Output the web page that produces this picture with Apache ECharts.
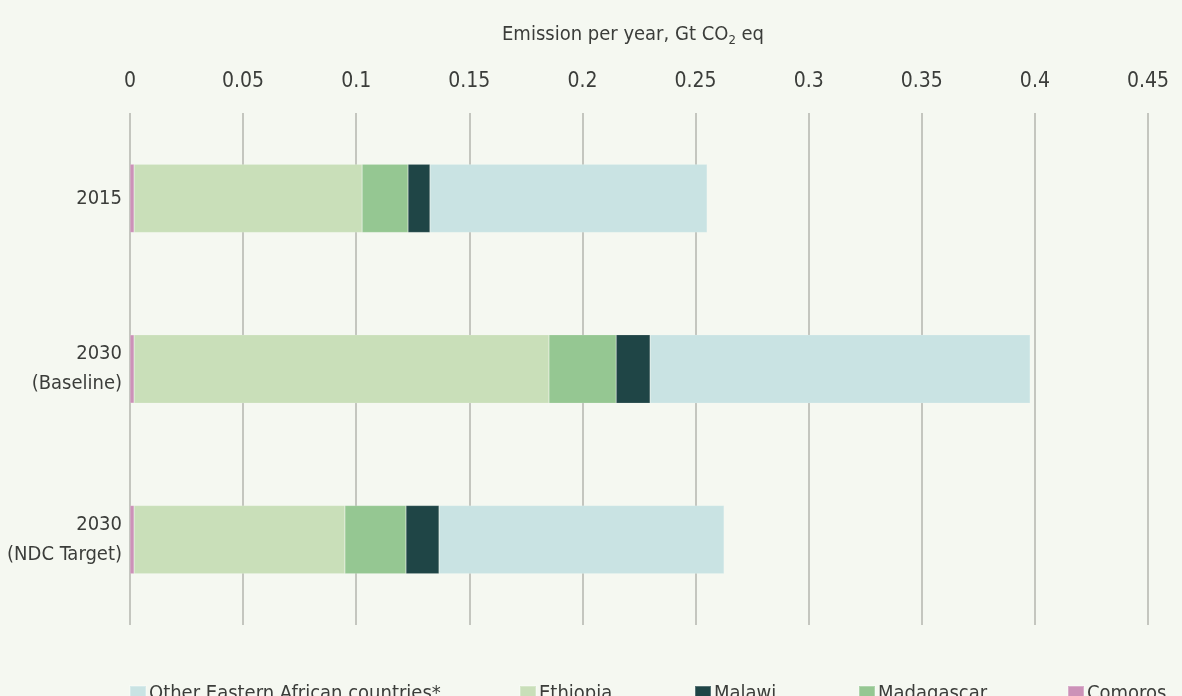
<!DOCTYPE html>
<html><head><meta charset="utf-8">
<script src="https://cdn.jsdelivr.net/npm/echarts@6/dist/echarts.min.js"></script>
<style>html,body{margin:0;padding:0;background:#f5f8f1;}#c{width:1182px;height:696px;}</style>
</head><body><div id="c"></div>
<script>
const categories = ['2015', '2030\n(Baseline)', '2030\n(NDC Target)'];
const comoros = [0.0018, 0.0018, 0.0018];
const ethiopia = [0.1008, 0.1834, 0.0932];
const madagascar = [0.0203, 0.0297, 0.0270];
const malawi = [0.0097, 0.0150, 0.0146];
const other = [0.1225, 0.1680, 0.1260];
const xTicks = [0, 0.05, 0.1, 0.15, 0.2, 0.25, 0.3, 0.35, 0.4, 0.45];

const FONT = '"Liberation Sans Narrow","DejaVu Sans Condensed","Roboto",sans-serif';
const TXT = '#3b3d3a';
const colors = {other:'#c9e3e3', ethiopia:'#c9dfb9', malawi:'#1f4546', madagascar:'#95c792', comoros:'#cc92b8'};

function bar(name, data, color){
  return {name, type:'bar', stack:'t', data, barWidth:'40%',
    itemStyle:{color, borderColor:'rgba(255,255,255,0.25)', borderWidth:0.5}};
}
function leg(name, left){
  return {data:[name], left, top:679, itemWidth:16, itemHeight:16, itemGap:6, icon:'rect',
    textStyle:{fontFamily:FONT, fontSize:20, color:TXT, padding:[0,0,0,-2]}, selectedMode:false};
}
const chart = echarts.init(document.getElementById('c'), null, {renderer:'canvas'});
chart.setOption({
  backgroundColor:'#f5f8f1',
  animation:false,
  title:{text:'Emission per year, Gt CO{s|2} eq', left:497, top:17,
    textStyle:{fontFamily:FONT, fontSize:20, fontWeight:'normal', color:TXT,
      rich:{s:{fontFamily:FONT, fontSize:13, color:TXT, verticalAlign:'bottom', padding:[12,0,0,0]}}}},
  grid:{left:130, right:34, top:113, bottom:71, containLabel:false, outerBoundsMode:'none'},
  legend:[leg('Other Eastern African countries*',124), leg('Ethiopia',514), leg('Malawi',689), leg('Madagascar',853), leg('Comoros',1062)],
  xAxis:{type:'value', position:'top', min:0, max:0.45, interval:0.05,
    axisLine:{show:false}, axisTick:{show:false},
    splitLine:{show:true, lineStyle:{color:'#b3b6ae', width:1.5}},
    axisLabel:{fontFamily:FONT, fontSize:21, color:TXT, margin:21,
      formatter:v=>{const t=xTicks.find(x=>Math.abs(x-v)<1e-9); return t===undefined?'':String(t);}}},
  yAxis:{type:'category', inverse:true, data:categories,
    axisLine:{show:false}, axisTick:{show:false},
    axisLabel:{fontFamily:FONT, fontSize:20, color:TXT, margin:8, lineHeight:30, align:'right'}},
  series:[bar('Comoros',comoros,colors.comoros), bar('Ethiopia',ethiopia,colors.ethiopia),
    bar('Madagascar',madagascar,colors.madagascar), bar('Malawi',malawi,colors.malawi),
    bar('Other Eastern African countries*',other,colors.other)]
});
</script></body></html>
